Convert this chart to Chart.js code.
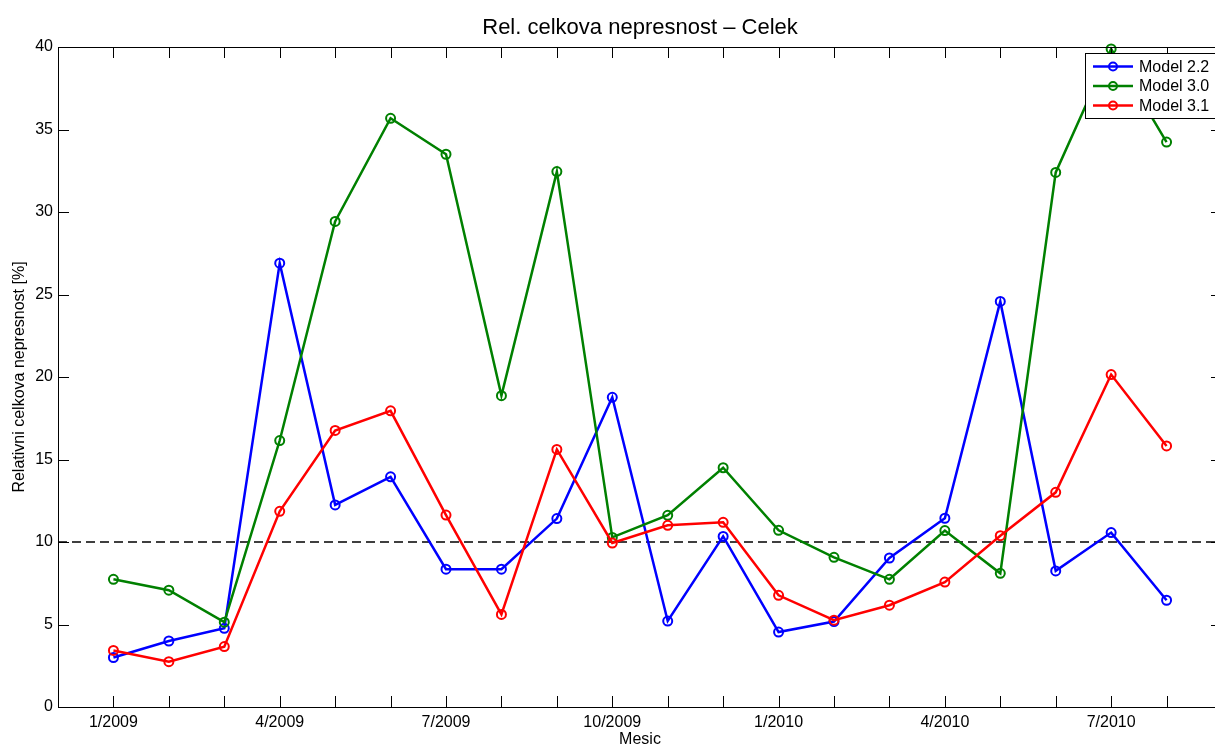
<!DOCTYPE html>
<html>
<head>
<meta charset="utf-8">
<script src="https://cdn.jsdelivr.net/npm/chart.js@4/dist/chart.umd.min.js"></script>
<style>
  html, body { margin: 0; padding: 0; background: #fff; overflow: hidden; }
  #wrap { width: 1215px; height: 747px; overflow: hidden; position: relative; }
  canvas { display: block; }
</style>
</head>
<body>
<div id="wrap"><canvas id="c" width="1240" height="747"></canvas></div>
<script>
// ---- data ----
const months = ['1/2009','2/2009','3/2009','4/2009','5/2009','6/2009','7/2009','8/2009','9/2009','10/2009','11/2009','12/2009',
                '1/2010','2/2010','3/2010','4/2010','5/2010','6/2010','7/2010','8/2010'];
const tickIndex = [0, 3, 6, 9, 12, 15, 18];
const tickLabels = ['1/2009','4/2009','7/2009','10/2009','1/2010','4/2010','7/2010'];
const yTicks = [0, 5, 10, 15, 20, 25, 30, 35, 40];
const model22 = [3.0, 4.0, 4.77, 26.9, 12.25, 13.95, 8.35, 8.35, 11.42, 18.77, 5.21, 10.34, 4.54, 5.18, 9.03, 11.44, 24.58, 8.25, 10.57, 6.47];
const model30 = [7.74, 7.08, 5.14, 16.15, 29.43, 35.68, 33.5, 18.87, 32.45, 10.28, 11.62, 14.5, 10.71, 9.07, 7.74, 10.69, 8.1, 32.4, 39.88, 34.24];
const model31 = [3.43, 2.75, 3.66, 11.86, 16.76, 17.95, 11.63, 5.61, 15.61, 9.94, 11.01, 11.19, 6.77, 5.26, 6.17, 7.57, 10.38, 13.01, 20.15, 15.82];
const threshold = 10;
const seriesNames = ['Model 2.2', 'Model 3.0', 'Model 3.1'];
const seriesColors = ['#0000ff', '#008000', '#ff0000'];

const FONT = '"Liberation Sans", Arial, Helvetica, sans-serif';
Chart.defaults.font.family = FONT;
Chart.defaults.color = '#000';

function pts(vals) { return months.map((m, i) => ({ x: i, y: vals[i] })); }

function series(idx, vals, order) {
  return {
    label: seriesNames[idx],
    data: pts(vals),
    borderColor: seriesColors[idx],
    backgroundColor: 'rgba(0,0,0,0)',
    borderWidth: 2.5,
    pointRadius: 4.5,
    pointHoverRadius: 4.5,
    pointBorderWidth: 2,
    pointBorderColor: seriesColors[idx],
    pointBackgroundColor: 'rgba(0,0,0,0)',
    tension: 0,
    clip: 8,
    order: order
  };
}

const matlabAxes = {
  id: 'matlabAxes',
  afterDraw(chart) {
    const ctx = chart.ctx;
    const a = chart.chartArea;
    const xs = chart.scales.x, ys = chart.scales.y;
    const L = 11;
    ctx.save();
    ctx.strokeStyle = '#000';
    ctx.lineWidth = 1;
    ctx.beginPath();
    months.forEach((m, i) => {
      const x = Math.round(xs.getPixelForValue(i)) + 0.5;
      ctx.moveTo(x, a.bottom); ctx.lineTo(x, a.bottom - L);
      ctx.moveTo(x, a.top); ctx.lineTo(x, a.top + L);
    });
    yTicks.forEach(v => {
      const y = Math.round(ys.getPixelForValue(v)) + 0.5;
      ctx.moveTo(a.left, y); ctx.lineTo(a.left + L, y);
      ctx.moveTo(a.right, y); ctx.lineTo(a.right - L, y);
    });
    ctx.stroke();
    ctx.strokeRect(Math.round(a.left) + 0.5, Math.round(a.top) + 0.5,
                   Math.round(a.right - a.left), Math.round(a.bottom - a.top));
    // legend
    const bx = 1085.5, by = 53.5, bw = 200, bh = 65;
    ctx.fillStyle = '#fff';
    ctx.fillRect(bx, by, bw, bh);
    ctx.strokeRect(bx, by, bw, bh);
    const rows = [66.5, 86, 105.5];
    ctx.font = '16px ' + FONT;
    ctx.textBaseline = 'middle';
    ctx.textAlign = 'left';
    seriesNames.forEach((n, i) => {
      const y = rows[i];
      ctx.strokeStyle = seriesColors[i];
      ctx.lineWidth = 2.5;
      ctx.beginPath(); ctx.moveTo(1093, y); ctx.lineTo(1133, y); ctx.stroke();
      ctx.lineWidth = 2;
      ctx.beginPath(); ctx.arc(1113, y, 4, 0, Math.PI * 2); ctx.stroke();
      ctx.fillStyle = '#000';
      ctx.fillText(n, 1139, y + 1);
    });
    ctx.restore();
  }
};

new Chart(document.getElementById('c'), {
  type: 'line',
  data: {
    datasets: [
      series(0, model22, 3),
      series(1, model30, 2),
      series(2, model31, 1),
      {
        label: 'limit',
        data: [{ x: -1, y: threshold }, { x: 20, y: threshold }],
        borderColor: '#000',
        borderWidth: 1.4,
        borderDash: [9, 5],
        pointRadius: 0,
        order: 4
      }
    ]
  },
  options: {
    responsive: false,
    animation: false,
    events: [],
    layout: { padding: { left: 0, right: 18, top: 0, bottom: 0 } },
    plugins: {
      legend: { display: false },
      tooltip: { enabled: false },
      title: {
        display: true,
        fullSize: false,
        text: 'Rel. celkova nepresnost \u2013 Celek',
        color: '#000',
        font: { size: 22, weight: 'normal', family: FONT },
        padding: { top: 15, bottom: 5.6 }
      }
    },
    scales: {
      x: {
        type: 'linear',
        min: -1,
        max: 20,
        afterBuildTicks(s) { s.ticks = tickIndex.map(v => ({ value: v })); },
        afterFit(s) { s.height = 40; },
        grid: { display: false, drawTicks: false, tickLength: 0 },
        border: { display: false },
        ticks: {
          autoSkip: false,
          maxRotation: 0,
          padding: 6,
          color: '#000',
          font: { size: 16, family: FONT },
          callback(v) { const k = tickIndex.indexOf(v); return k >= 0 ? tickLabels[k] : ''; }
        },
        title: {
          display: true, text: 'Mesic', color: '#000',
          font: { size: 16, family: FONT }, padding: { top: 0, bottom: -2 }
        }
      },
      y: {
        min: 0,
        max: 40,
        afterBuildTicks(s) { s.ticks = yTicks.map(v => ({ value: v })); },
        afterFit(s) { s.width = 58; },
        grid: { display: false, drawTicks: false, tickLength: 0 },
        border: { display: false },
        ticks: { padding: 5, color: '#000', font: { size: 16, family: FONT } },
        title: {
          display: true, text: 'Relativni celkova nepresnost [%]', color: '#000',
          font: { size: 16, family: FONT }, padding: { top: 10, bottom: 0 }
        }
      }
    }
  },
  plugins: [matlabAxes]
});
</script>
</body>
</html>
